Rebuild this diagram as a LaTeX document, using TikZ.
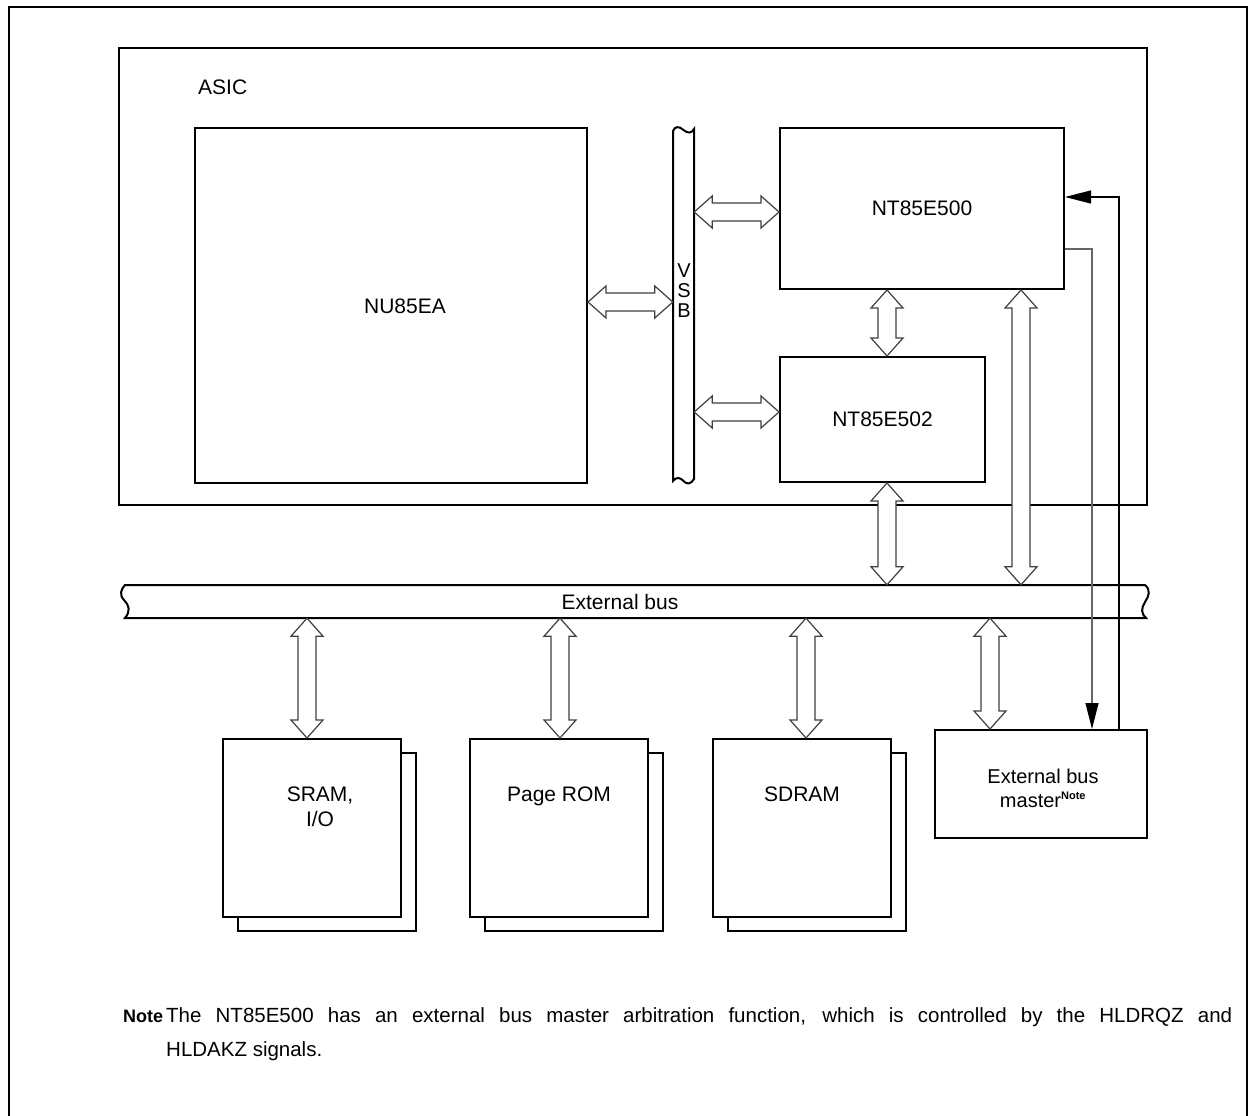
\documentclass[tikz,border=0pt]{standalone}
\usepackage{fontspec}
\setmainfont{Liberation Sans}
\usetikzlibrary{arrows.meta,calc}
\tikzset{
  box/.style={draw, line width=2pt, fill=white, inner sep=0pt},
  hollow/.style={draw=black!75, line width=1.2pt, fill=white, line join=miter},
  sig/.style={line width=1.1pt},
  lbl/.style={font=\fontsize{21}{25}\selectfont, align=center, inner sep=0pt},
  tip/.style={-{Triangle[length=26pt,width=13pt,color=black]}}
}
\newcommand\hdbl[2]{%
  \draw[hollow] let \p1=#1, \p2=#2 in (\x1,\y1) -- ++(18pt,16pt) -- ++(0,-7pt) -- (\x2-18pt,\y1+9pt) -- ++(0,7pt) -- (\x2,\y1) -- ++(-18pt,-16pt) -- ++(0,7pt) -- (\x1+18pt,\y1-9pt) -- ++(0,-7pt) -- cycle;}
\newcommand\vdbl[2]{%
  \draw[hollow] let \p1=#1, \p2=#2 in (\x1,\y1) -- ++(16pt,-18pt) -- ++(-7pt,0) -- (\x1+9pt,\y2+18pt) -- ++(7pt,0) -- (\x1,\y2) -- ++(-16pt,18pt) -- ++(7pt,0) -- (\x1-9pt,\y1-18pt) -- ++(-7pt,0) -- cycle;}
\begin{document}
\begin{tikzpicture}[x=1pt,y=-1pt]
\useasboundingbox (0,0) rectangle (1250,1116);
% outer frame
\draw[line width=2pt] (9,1117) -- (9,7) -- (1247,7) -- (1247,1117);
% ASIC
\node[box, minimum width=1028pt, minimum height=457pt] (asic) at (633,276.5) {};
\node[lbl, anchor=west] (asiclbl) at (198,87) {ASIC};
% main blocks
\node[box, minimum width=392pt, minimum height=355pt] (nu) at (391,305.5) {};
\node[lbl] (nulbl) at (405,306) {NU85EA};
\node[box, minimum width=284pt, minimum height=161pt] (nt500) at (922,208.5) {};
\node[lbl] (nt500lbl) at (nt500) {NT85E500};
\node[box, minimum width=205pt, minimum height=125pt] (nt502) at (882.5,419.5) {};
\node[lbl] (nt502lbl) at (nt502) {NT85E502};
% VSB
\node[minimum width=21pt, minimum height=351pt, inner sep=0pt] (vsb) at (683.5,305.5) {};
\draw[line width=2pt, fill=white] (673,481) -- (673,131) .. controls (675,126) and (679,126) .. (683.5,130) .. controls (688,134) and (692,133) .. (694,129) -- (694,479) .. controls (691,484) and (687,485) .. (683.5,481) .. controls (680,477) and (676,477) .. (673,481) -- cycle;
\node[lbl, align=center, font=\fontsize{20}{20}\selectfont] (vsblbl) at (684,291) {V\\S\\B};
% External bus
\node[minimum width=1024pt, minimum height=33pt, inner sep=0pt] (bus) at (635,601.5) {};
\draw[line width=2pt] (125,585) -- (1145,585) .. controls (1151,590) and (1149,596) .. (1145,602) .. controls (1141,608) and (1141,614) .. (1146,618) -- (125,618) .. controls (131,611) and (129,605) .. (124,600) .. controls (119,595) and (121,589) .. (125,585) -- cycle;
\node[lbl] (buslbl) at (620,602) {External bus};
% memories
\foreach \n/\cx/\dx/\t in {sram/312/8/{SRAM,\\I/O}, prom/559/0/{Page ROM}, sdram/802/0/{SDRAM}}{
  \node[box, minimum width=178pt, minimum height=178pt] (\n back) at (\cx+15,842) {};
  \node[box, minimum width=178pt, minimum height=178pt] (\n) at (\cx,828) {};
  \node[lbl, anchor=north] at (\cx+\dx,787) {\t};
}
\node[box, minimum width=212pt, minimum height=108pt] (ebm) at (1041,784) {};
\node[lbl, font=\fontsize{20}{24}\selectfont] (ebmlbl) at (1043,788) {External bus\\master\textsuperscript{\fontsize{11}{11}\selectfont\bfseries Note}};
% x positions of vertical arrows / signals
\coordinate (xa) at (887,0);
\coordinate (xb) at (1021,0);
\coordinate (xs) at (307,0);
\coordinate (xp) at (560,0);
\coordinate (xd) at (806,0);
\coordinate (xe) at (990,0);
\coordinate (xq) at (1092,0);
\coordinate (xk) at (1119,0);
\coordinate (yn) at (0,302);
\coordinate (ya) at (0,212);
\coordinate (yb) at (0,412);
\coordinate (yq) at (0,249);
\coordinate (yk) at (0,197);
% hollow arrows
\hdbl{(nu.east |- yn)}{(vsb.west |- yn)}
\hdbl{(vsb.east |- ya)}{(nt500.west |- ya)}
\hdbl{(vsb.east |- yb)}{(nt502.west |- yb)}
\vdbl{(nt500.south -| xa)}{(nt502.north -| xa)}
\vdbl{(nt502.south -| xa)}{(bus.north -| xa)}
\vdbl{(nt500.south -| xb)}{(bus.north -| xb)}
\vdbl{(bus.south -| xs)}{(sram.north -| xs)}
\vdbl{(bus.south -| xp)}{(prom.north -| xp)}
\vdbl{(bus.south -| xd)}{(sdram.north -| xd)}
\vdbl{(bus.south -| xe)}{(ebm.north -| xe)}
% HLDRQ / HLDAK signals
\draw[sig, draw=black!60, tip] (nt500.east |- yq) -- (xq |- yq) -- (ebm.north -| xq);
\draw[sig, tip] (ebm.north -| xk) -- (xk |- yk) -- (nt500.east |- yk);
% note
\node[anchor=base west, inner sep=0pt, font=\fontsize{18}{22}\selectfont\bfseries] (notehead) at (123,1022) {Note};
\node[anchor=base west, inner sep=0pt, font=\fontsize{20.5}{24}\selectfont] (noteline1) at (166,1022) {\makebox[1066pt][s]{The NT85E500 has an external bus master arbitration function, which is controlled by the HLDRQZ and}};
\node[anchor=base west, inner sep=0pt, font=\fontsize{20.5}{24}\selectfont] (noteline2) at (166,1056) {HLDAKZ signals.};
\end{tikzpicture}
\end{document}
